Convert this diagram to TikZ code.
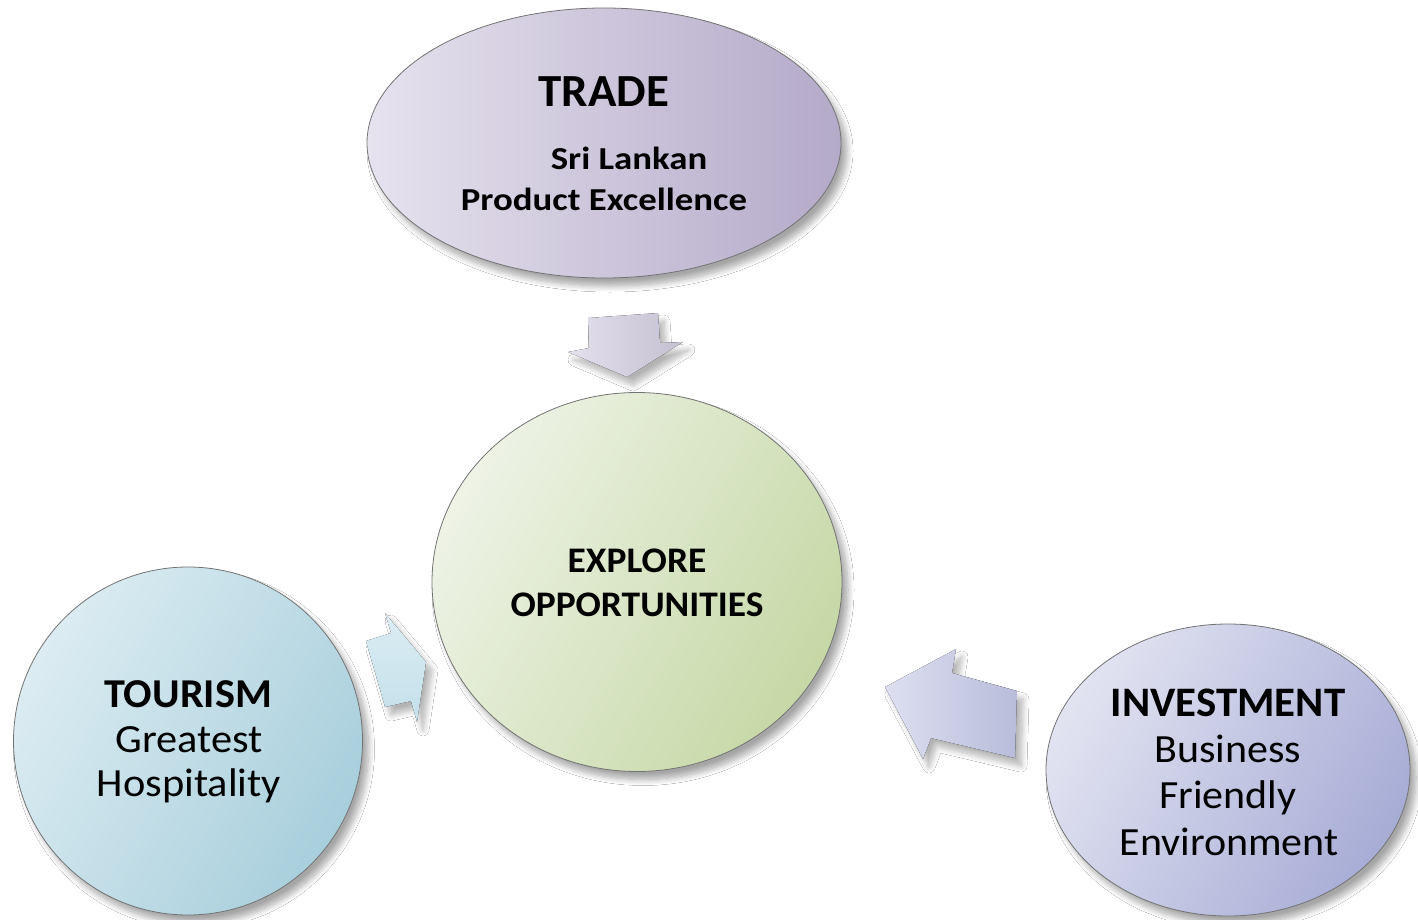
\documentclass[tikz,border=0pt]{standalone}
\usepackage{fontspec}
\setmainfont{Carlito}
\usetikzlibrary{shapes.geometric,shadows.blur}
\definecolor{tradeA}{HTML}{E6E2EE}
\definecolor{tradeB}{HTML}{B4AAC9}
\definecolor{expA}{HTML}{EEF3E6}
\definecolor{expB}{HTML}{C6D8A6}
\definecolor{tourA}{HTML}{DCECF2}
\definecolor{tourB}{HTML}{A8CFDC}
\definecolor{invA}{HTML}{E2E3F1}
\definecolor{invB}{HTML}{A8ADD6}
\definecolor{arrTrade}{HTML}{D8D2E6}
\definecolor{arrTour}{HTML}{C4E0EB}
\definecolor{arrInv}{HTML}{C2C6E5}
\tikzset{
  bubble/.style={ellipse, draw=black!55, line width=0.8pt, inner sep=0pt,
    blur shadow={shadow xshift=6pt, shadow yshift=-8pt, shadow blur steps=10, shadow blur radius=6pt, shadow opacity=35}},
  blockarrow/.style={draw=none,
    blur shadow={shadow xshift=6pt, shadow yshift=-8pt, shadow blur steps=10, shadow blur radius=6pt, shadow opacity=30}},
  lbl/.style={anchor=base, inner sep=0pt, text=black},
}
\begin{document}
\begin{tikzpicture}[x=1pt,y=-1pt]
\useasboundingbox[fill=white] (0,0) rectangle (1418,920);
% block arrows
\fill[blockarrow, left color=arrTrade!70!white, right color=arrTrade!90!black!95]
  (588,318) -- (658,313) -- (660,343) -- (683,342) -- (627,377) -- (568,352) -- (589,348) -- cycle;
\fill[blockarrow, top color=arrTour!60!white, bottom color=arrTour]
  (366,641) -- (391,633) -- (385,613) -- (426,662) -- (417,722) -- (411,701) -- (385,707) -- cycle;
\fill[blockarrow, left color=arrInv!55!white, right color=arrInv!95!black]
  (885,687) -- (956,649) -- (952,673) -- (1017,691) -- (1015,758) -- (931,738) -- (923,759) -- cycle;
% bubbles
\node[bubble, minimum width=474pt, minimum height=270pt, left color=tradeA, right color=tradeB] (trade) at (604,143) {};
\node[bubble, minimum width=410pt, minimum height=379pt, left color=expA, right color=expB, shading angle=60] (explore) at (637,582) {};
\node[bubble, minimum width=349pt, minimum height=348pt, left color=tourA, right color=tourB, shading angle=60] (tourism) at (188,741) {};
\node[bubble, minimum width=364pt, minimum height=292pt, left color=invA, right color=invB, shading angle=60] (invest) at (1228,770) {};
% labels
\node[lbl, xscale=1.02, font=\bfseries\fontsize{46}{50}\selectfont] (tradeT) at (604,107) {TRADE};
\node[lbl, xscale=1.15, font=\bfseries\fontsize{32}{36}\selectfont] (tradeS1) at (629,170) {Sri Lankan};
\node[lbl, xscale=1.15, font=\bfseries\fontsize{32}{36}\selectfont] (tradeS2) at (604,211) {Product Excellence};
\node[lbl, xscale=1.04, font=\bfseries\fontsize{36}{40}\selectfont] (expT1) at (637,572) {EXPLORE};
\node[lbl, xscale=1.04, font=\bfseries\fontsize{36}{40}\selectfont] (expT2) at (637,616) {OPPORTUNITIES};
\node[lbl, xscale=1.03, font=\bfseries\fontsize{41}{45}\selectfont] (tourT) at (188,707) {TOURISM};
\node[lbl, xscale=1.06, font=\fontsize{40}{44}\selectfont] (tourS1) at (189,752) {Greatest};
\node[lbl, xscale=1.06, font=\fontsize{40}{44}\selectfont] (tourS2) at (189,796) {Hospitality};
\node[lbl, xscale=1.02, font=\bfseries\fontsize{42}{46}\selectfont] (invT) at (1228,716) {INVESTMENT};
\node[lbl, xscale=1.05, font=\fontsize{40}{44}\selectfont] (invS1) at (1228,762) {Business};
\node[lbl, xscale=1.05, font=\fontsize{40}{44}\selectfont] (invS2) at (1228,808) {Friendly};
\node[lbl, xscale=1.05, font=\fontsize{40}{44}\selectfont] (invS3) at (1229,855) {Environment};
\end{tikzpicture}
\end{document}
